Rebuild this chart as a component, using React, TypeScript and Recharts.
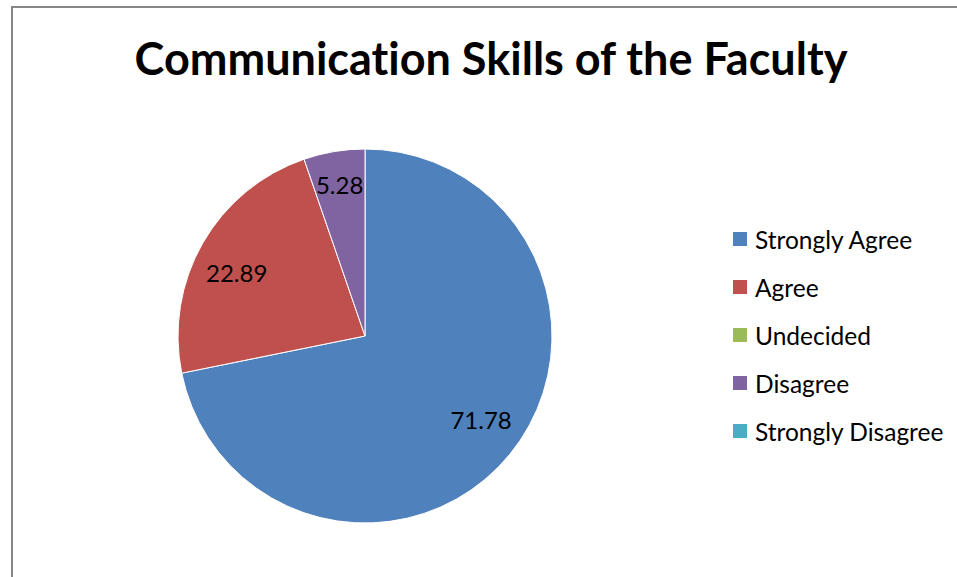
import React from "react";
import { PieChart, Pie, Cell, Legend } from "recharts";

const categories = ["Strongly Agree", "Agree", "Undecided", "Disagree", "Strongly Disagree"];
const values = [71.78, 22.89, 0, 5.28, 0];
const colors = ["#4F81BD", "#C0504D", "#9BBB59", "#8064A2", "#4BACC6"];
const title = "Communication Skills of the Faculty";

const data = categories.map((name, i) => ({ name, value: values[i] }));

const RAD = Math.PI / 180;
const FONT = "Lato, 'Open Sans', sans-serif";

const renderLabel = (props: any) => {
  const { cx, cy, midAngle, outerRadius, value } = props;
  if (!value) return null;
  const small = value < 10;
  const r = outerRadius * (small ? 0.82 : 0.765);
  const a = midAngle + (small ? 0 : 3.5);
  const x = cx + r * Math.cos(-a * RAD);
  const y = cy + r * Math.sin(-a * RAD);
  return (
    <text x={x} y={y} fill="#000" textAnchor="middle" dominantBaseline="central" fontSize={24} fontFamily={FONT}>
      {value.toFixed(2)}
    </text>
  );
};

const renderLegend = () => {
  return (
    <div style={{ fontFamily: FONT, fontSize: 24.5, color: "#000" }}>
      {categories.map((name, i) => (
        <div key={name} style={{ display: "flex", alignItems: "center", height: 48 }}>
          <span style={{ display: "inline-block", width: 14, height: 14, background: colors[i], marginRight: 8 }} />
          <span>{name}</span>
        </div>
      ))}
    </div>
  );
};

export default function App() {
  return (
    <div style={{ position: "absolute", left: 0, top: 0, width: 957, height: 577, background: "#fff", overflow: "hidden" }}>
      <div style={{ position: "absolute", left: 11, top: 6, width: 1000, height: 700, border: "2px solid #878787", boxSizing: "border-box" }} />
      <div style={{ position: "absolute", left: 0, top: 31, width: 982, textAlign: "center", fontFamily: FONT, fontWeight: 700, fontSize: 45, color: "#000", fontVariantLigatures: "none", whiteSpace: "nowrap" }}>
        {title}
      </div>
      <div style={{ position: "absolute", left: 0, top: 0 }}>
        <PieChart width={957} height={577} margin={{ top: 0, right: 0, bottom: 0, left: 0 }}>
          <Pie
            data={data}
            dataKey="value"
            nameKey="name"
            cx={365}
            cy={336}
            outerRadius={187}
            startAngle={90}
            endAngle={-270}
            stroke="#fff"
            strokeWidth={1}
            label={renderLabel}
            labelLine={false}
            isAnimationActive={false}
          >
            {data.map((d, i) => (
              <Cell key={d.name} fill={colors[i]} />
            ))}
          </Pie>
          <Legend
            layout="vertical"
            content={renderLegend}
            wrapperStyle={{ position: "absolute", left: 733, top: 215, width: 224 }}
          />
        </PieChart>
      </div>
    </div>
  );
}
